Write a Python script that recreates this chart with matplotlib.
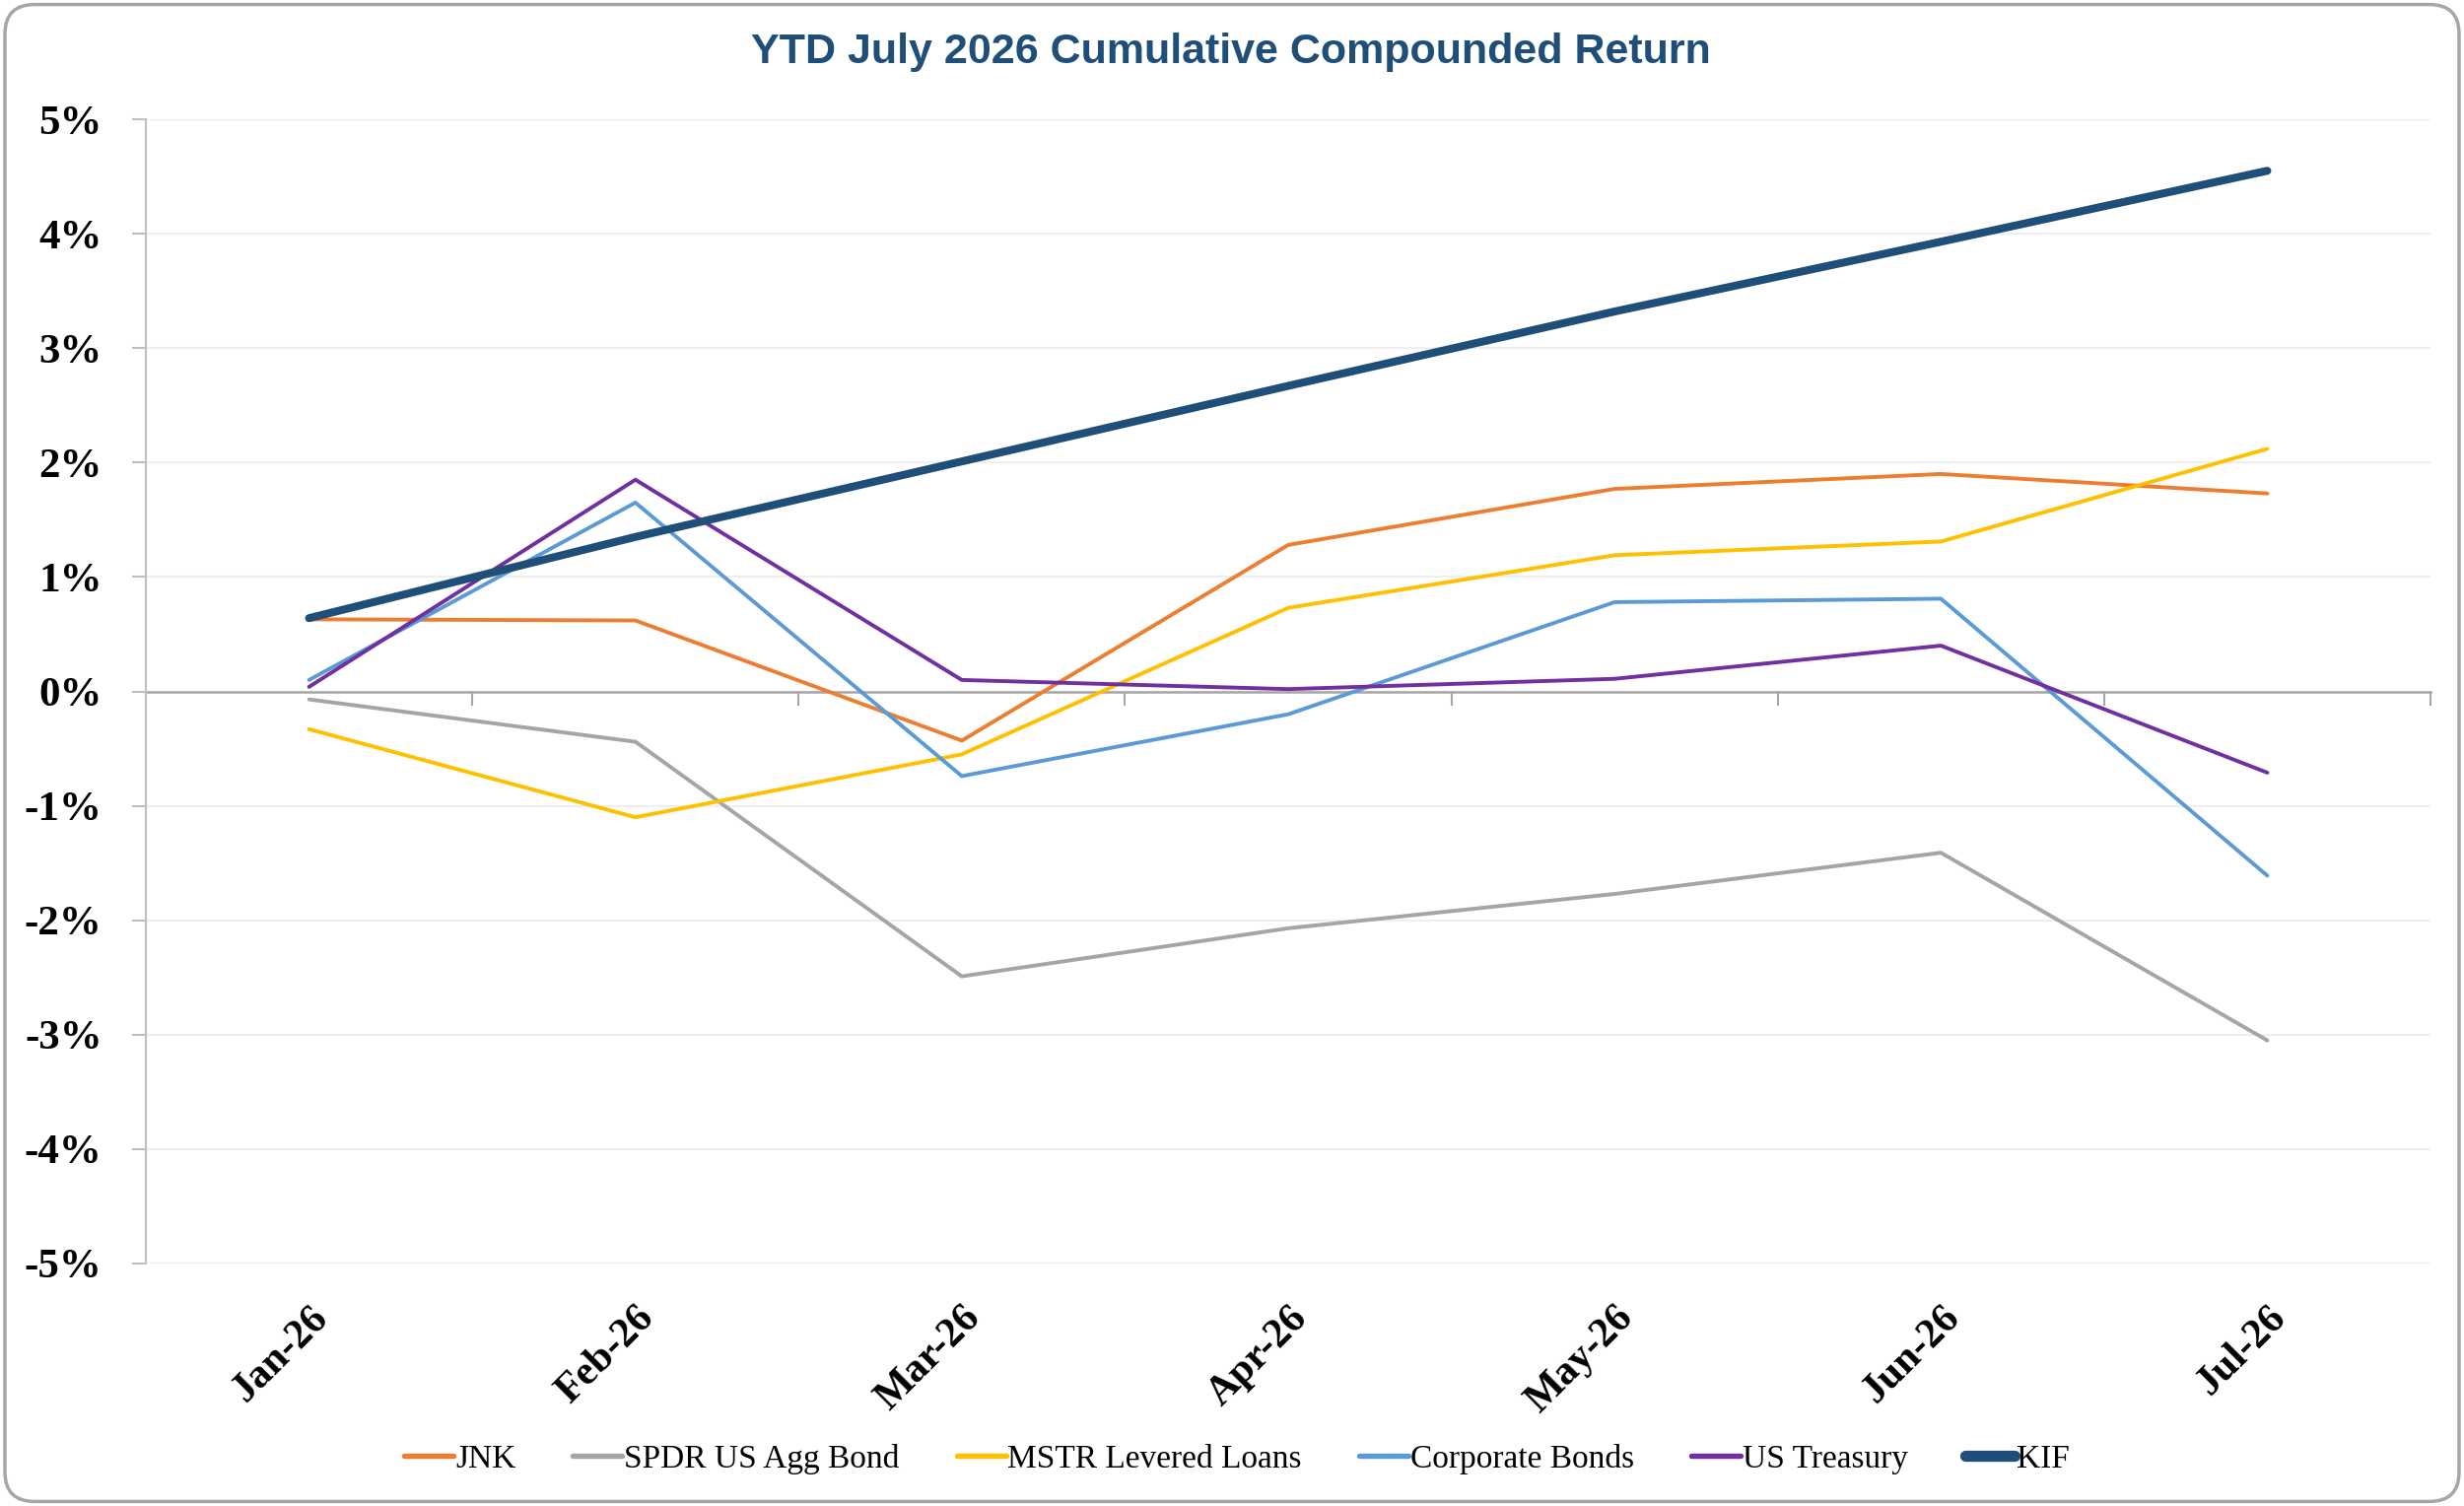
import matplotlib
matplotlib.use("Agg")
import matplotlib.pyplot as plt
import numpy as np
from matplotlib.patches import FancyBboxPatch
from matplotlib.ticker import FuncFormatter

months = ["Jan-26", "Feb-26", "Mar-26", "Apr-26", "May-26", "Jun-26", "Jul-26"]

# cumulative compounded return, in percent
jnk = [0.63, 0.62, -0.43, 1.28, 1.77, 1.90, 1.73]
spdr_agg = [-0.07, -0.44, -2.49, -2.07, -1.77, -1.41, -3.05]
mstr_loans = [-0.33, -1.10, -0.55, 0.73, 1.19, 1.31, 2.12]
corp_bonds = [0.10, 1.65, -0.74, -0.20, 0.78, 0.81, -1.61]
us_treasury = [0.04, 1.85, 0.10, 0.02, 0.11, 0.40, -0.71]
kif = [0.64, 1.35, 2.01, 2.67, 3.32, 3.93, 4.55]

series = [
    ("JNK", jnk, "#ED7D31", 2.8),
    ("SPDR US Agg Bond", spdr_agg, "#A5A5A5", 2.8),
    ("MSTR Levered Loans", mstr_loans, "#FFC000", 2.8),
    ("Corporate Bonds", corp_bonds, "#5B9BD5", 2.8),
    ("US Treasury", us_treasury, "#7030A0", 2.8),
    ("KIF", kif, "#1F4E79", 5.8),
]

serif = ["Liberation Serif", "DejaVu Serif"]

fig = plt.figure(figsize=(25, 15.28), dpi=100)
ax = fig.add_axes([0.0592, 0.161, 0.9272, 0.7598])

x = np.arange(len(months))
for name, vals, color, lw in series:
    ax.plot(x, vals, color=color, lw=lw, label=name,
            solid_capstyle="round", solid_joinstyle="round")

ax.set_xlim(-0.5, len(months) - 0.5)
ax.set_ylim(-5, 5)
ax.set_yticks(np.arange(-5, 6, 1))
ax.yaxis.set_major_formatter(FuncFormatter(lambda v, p: f"{v:.0f}%"))
ax.grid(axis="y", color="#EFEFEF", lw=1.6)
ax.set_axisbelow(True)

for s in ["top", "right"]:
    ax.spines[s].set_visible(False)
ax.spines["left"].set_color("#BFBFBF")
ax.spines["left"].set_linewidth(1.5)
ax.spines["bottom"].set_position(("data", 0))
ax.spines["bottom"].set_color("#A6A6A6")
ax.spines["bottom"].set_linewidth(1.8)
ax.spines["bottom"].set_zorder(1)

ax.tick_params(axis="y", length=10, width=1.5, color="#BFBFBF", pad=22,
               labelsize=31)
for t in ax.get_yticklabels():
    t.set_fontfamily(serif)
    t.set_fontweight("bold")

# boundary ticks on the zero line, no labels there
ax.set_xticks(x)
ax.set_xticks(np.arange(len(months) + 1) - 0.5, minor=True)
ax.tick_params(axis="x", which="major", length=0, labelbottom=False)
ax.tick_params(axis="x", which="minor", length=10, width=1.5,
               color="#A6A6A6", direction="out")

# month labels along the bottom of the plot area
sec = ax.secondary_xaxis(0.0)
sec.set_xticks(x)
sec.set_xticklabels(months, rotation=45, ha="right", va="top",
                    rotation_mode="anchor", fontsize=30, fontweight="bold",
                    family=serif)
sec.tick_params(length=0, pad=26)
sec.spines["bottom"].set_visible(False)

fig.text(0.4994, 0.9655, "YTD July 2026 Cumulative Compounded Return",
         ha="center", va="center", fontsize=31, fontweight="bold",
         color="#1F4E79", family=["Liberation Sans", "DejaVu Sans"])

leg = fig.legend(loc="center", bbox_to_anchor=(0.502, 0.031), ncol=6,
                 frameon=False, handlelength=1.5, handletextpad=0.05,
                 columnspacing=1.75, prop={"family": serif, "size": 24})
for h in leg.legend_handles:
    h.set_linewidth(h.get_linewidth() * 1.4)

border = FancyBboxPatch((0.002, 0.003), 0.996, 0.994,
                        boxstyle="round,pad=0,rounding_size=0.012",
                        transform=fig.transFigure, fill=False,
                        edgecolor="#A6A6A6", lw=2.5, mutation_aspect=25 / 15.28)
fig.patches.append(border)

fig.savefig("out.png", dpi=100, facecolor="white")
